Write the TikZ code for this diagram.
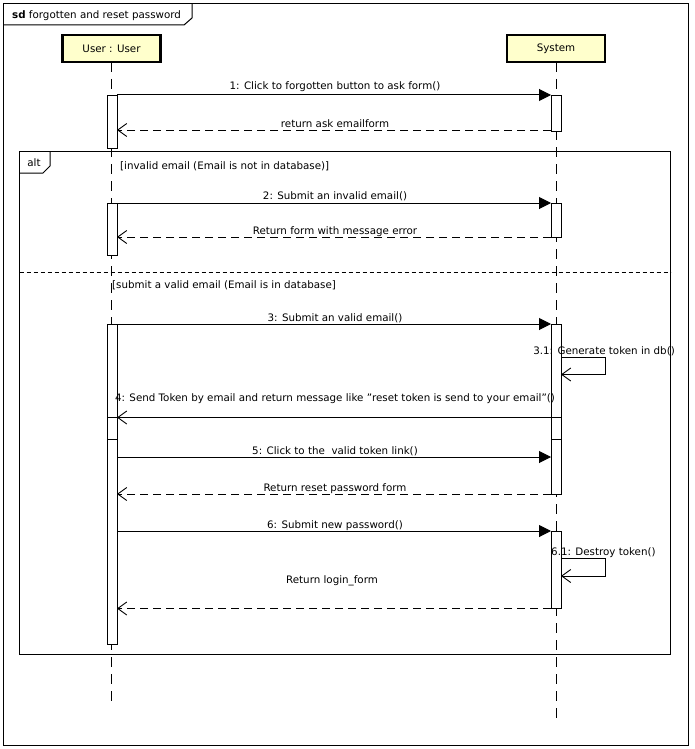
\documentclass[tikz,border=0pt]{standalone}
\usepackage{fontspec}
\setmainfont{DejaVu Sans}
\usetikzlibrary{arrows.meta}
\begin{document}
\begin{tikzpicture}[x=1pt,y=-1pt,
  every node/.style={font=\fontsize{10.3}{12}\selectfont, inner sep=0pt},
  frameline/.style={draw=black, line width=1pt},
  head/.style={draw=black, line width=2.4pt, fill=headfill, minimum width=98pt, minimum height=27pt},
  life/.style={draw=black, line width=0.8pt, dash pattern=on 10pt off 7pt},
  actbox/.style={draw=black, line width=1pt, fill=white},
  callmsg/.style={draw=black, line width=1pt, -{Triangle[length=12pt,width=12pt]}},
  retmsg/.style={draw=black, line width=0.9pt, dash pattern=on 8pt off 5pt, -{Straight Barb[length=9pt,width=13pt,line width=0.9pt]}},
  replymsg/.style={draw=black, line width=1pt, -{Straight Barb[length=9pt,width=13pt,line width=0.9pt]}},
  selfmsg/.style={draw=black, line width=1pt, -{Straight Barb[length=9pt,width=13pt,line width=0.9pt]}},
  lbl/.style={anchor=base}
]
\definecolor{headfill}{RGB}{255,255,204}
\useasboundingbox (0,0) rectangle (694,749);
\fill[white] (0,0) rectangle (694,749);

% outer frame
\draw[frameline] (3.5,3.5) rectangle (688,745);
\draw[frameline] (3.5,25) -- (184,25) -- (192,18) -- (192,3.5);
\node[anchor=base west] (title) at (12,19) {\textbf{sd} forgotten and reset password};

% lifelines
\draw[life] (111,62) -- (111,706);
\draw[life] (556,62) -- (556,718);
\node[head] (user) at (111.5,48.5) {User : User};
\node[head] (sys) at (556,48.5) {System};

% alt frame
\draw[frameline] (19.5,151) rectangle (670.5,654);
\draw[frameline] (19.5,173) -- (43,173) -- (50,166) -- (50,151);
\node[anchor=base] (altl) at (34,166) {alt};
\draw[black, line width=0.9pt, dash pattern=on 4pt off 3pt] (19.5,272.5) -- (670.5,272.5);
\node[anchor=base west] (g1) at (120,169) {[invalid email (Email is not in database)]};
\node[anchor=base west] (g2) at (112,288) {[submit a valid email (Email is in database]};

% activations
\newcommand{\actv}[4]{\node[actbox, anchor=north west, minimum width=10pt, minimum height=#4-#3] (#1) at (#2,#3) {};}
\actv{ua1}{107}{95}{148}
\actv{sa1}{551}{95}{131}
\actv{ua2}{107}{203}{255}
\actv{sa2}{551}{203}{237}
\actv{ua3}{107}{324}{417}
\actv{ua3b}{107}{417}{439}
\actv{ua3c}{107}{439}{644}
\actv{sa3}{551}{324}{417}
\actv{sa3b}{551}{417}{439}
\actv{sa3c}{551}{439}{494}
\actv{sa4}{551}{531}{608}

% message end points
\coordinate (m1a) at (117,95);  \coordinate (m1b) at (551,95);
\coordinate (r1a) at (551,130); \coordinate (r1b) at (117,130);
\coordinate (m2a) at (117,203); \coordinate (m2b) at (551,203);
\coordinate (r2a) at (551,237); \coordinate (r2b) at (117,237);
\coordinate (m3a) at (117,324); \coordinate (m3b) at (551,324);
\coordinate (m4a) at (551,417.5); \coordinate (m4b) at (117,417.5);
\coordinate (m5a) at (117,457); \coordinate (m5b) at (551,457);
\coordinate (r5a) at (551,494); \coordinate (r5b) at (117,494);
\coordinate (m6a) at (117,531); \coordinate (m6b) at (551,531);
\coordinate (r6a) at (551,608.5); \coordinate (r6b) at (117,608.5);
\coordinate (s31a) at (561,357); \coordinate (s31b) at (561,374.5);
\coordinate (s61a) at (561,558); \coordinate (s61b) at (561,576);

\draw[callmsg] (m1a) -- (m1b);
\node[lbl] (l1) at (335,90) {1: Click to forgotten button to ask form()};
\draw[retmsg] (r1a) -- (r1b);
\node[lbl] (lr1) at (335,128) {return ask emailform};

\draw[callmsg] (m2a) -- (m2b);
\node[lbl] (l2) at (335,199) {2: Submit an invalid email()};
\draw[retmsg] (r2a) -- (r2b);
\node[lbl] (lr2) at (335,234) {Return form with message error};

\draw[callmsg] (m3a) -- (m3b);
\node[lbl] (l3) at (335,321) {3: Submit an valid email()};

\draw[selfmsg] (s31a) -- (605.5,357) -- (605.5,374.5) -- (s31b);
\node[anchor=base east] (l31) at (675,354) {3.1: Generate token in db()};

\draw[replymsg] (m4a) -- (m4b);
\node[lbl] (l4) at (335,401) {4: Send Token by email and return message like "reset token is send to your email"()};

\draw[callmsg] (m5a) -- (m5b);
\node[lbl] (l5) at (335,454) {5: Click to the\ \ valid token link()};
\draw[retmsg] (r5a) -- (r5b);
\node[lbl] (lr5) at (335,491) {Return reset password form};

\draw[callmsg] (m6a) -- (m6b);
\node[lbl] (l6) at (335,528) {6: Submit new password()};

\draw[selfmsg] (s61a) -- (605.5,558) -- (605.5,576) -- (s61b);
\node[anchor=base west] (l61) at (551,555) {6.1: Destroy token()};

\node[lbl] (lr6) at (332,583) {Return login\_form};
\draw[retmsg] (r6a) -- (r6b);
\end{tikzpicture}
\end{document}
